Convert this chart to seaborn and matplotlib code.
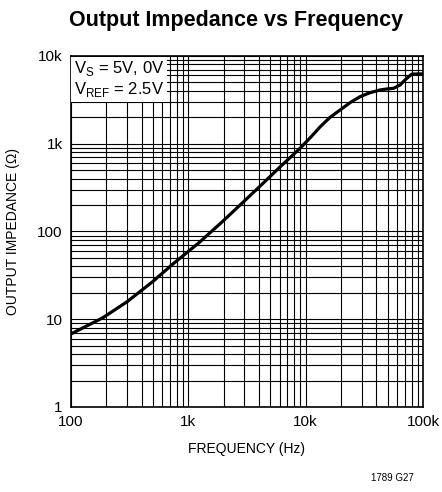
import numpy as np
import pandas as pd
import seaborn as sns
import matplotlib.pyplot as plt
from matplotlib.ticker import FixedLocator, NullFormatter

# values
freq_hz = [100, 187, 300, 500, 745, 1217, 1970, 2900, 4200, 5970,
           8950, 11000, 13300, 16000, 19600, 24000, 29100, 35000, 43000,
           50000, 56000, 63800, 68000, 72800, 80000, 90000, 100000]
impedance_ohm = [6.8, 10.4, 15.8, 27, 43, 73.4, 131, 213, 340, 535,
                 887, 1180, 1560, 1980, 2420, 2950, 3440, 3800, 4100,
                 4220, 4280, 4670, 5100, 5570, 6200, 6250, 6250]
x_ticks = [100, 1000, 10000, 100000]
x_labels = ["100", "1k", "10k", "100k"]
y_ticks = [1, 10, 100, 1000, 10000]
y_labels = ["1", "10", "100", "1k", "10k"]

sns.set_style("white")
fam = ["Liberation Sans Narrow", "Liberation Sans", "DejaVu Sans"]
plt.rcParams["font.family"] = fam
plt.rcParams["text.color"] = "black"
plt.rcParams["axes.labelcolor"] = "black"
plt.rcParams["xtick.color"] = "black"
plt.rcParams["ytick.color"] = "black"
plt.rcParams["mathtext.fontset"] = "custom"
plt.rcParams["mathtext.rm"] = "Liberation Sans"

df = pd.DataFrame({"f": freq_hz, "z": impedance_ohm})

fig = plt.figure(figsize=(4.42, 4.92), dpi=100)
ax = fig.add_axes([0.1606, 0.1728, 0.7964, 0.7134])
ax.set_xscale("log")
ax.set_yscale("log")
ax.set_xlim(100, 100000)
ax.set_ylim(1, 10000)

minor_x = [m * 10 ** d for d in range(2, 5) for m in range(2, 10)]
minor_y = [m * 10 ** d for d in range(0, 4) for m in range(2, 10)]
ax.xaxis.set_major_locator(FixedLocator(x_ticks))
ax.yaxis.set_major_locator(FixedLocator(y_ticks))
ax.xaxis.set_minor_locator(FixedLocator(minor_x))
ax.yaxis.set_minor_locator(FixedLocator(minor_y))
ax.xaxis.set_minor_formatter(NullFormatter())
ax.yaxis.set_minor_formatter(NullFormatter())
ax.set_xticklabels(x_labels)
ax.set_yticklabels(y_labels)
ax.grid(True, which="both", color="black", linewidth=0.8)
ax.tick_params(which="both", length=0, labelsize=11, pad=6)

sns.lineplot(data=df, x="f", y="z", ax=ax, color="black", linewidth=2.3, zorder=3)

for s in ax.spines.values():
    s.set_color("black")
    s.set_linewidth(1.2)

ax.set_xlabel("FREQUENCY (Hz)", fontsize=10, labelpad=9)
ax.set_ylabel("OUTPUT IMPEDANCE (\u03a9)", fontsize=10, labelpad=12)

ax.text(0.008, 0.99, "V$_\\mathregular{S}$ = 5V, 0V\nV$_\\mathregular{REF}$ = 2.5V",
        transform=ax.transAxes, ha="left", va="top", fontsize=12, linespacing=1.1,
        bbox=dict(facecolor="white", edgecolor="none", pad=2), zorder=4)

fig.text(0.535, 0.958, "Output Impedance vs Frequency", ha="center", va="center",
         fontsize=15.5, fontweight="bold")
fig.text(0.935, 0.028, "1789 G27", ha="right", va="center", fontsize=7)

fig.savefig("out.png", dpi=100)
